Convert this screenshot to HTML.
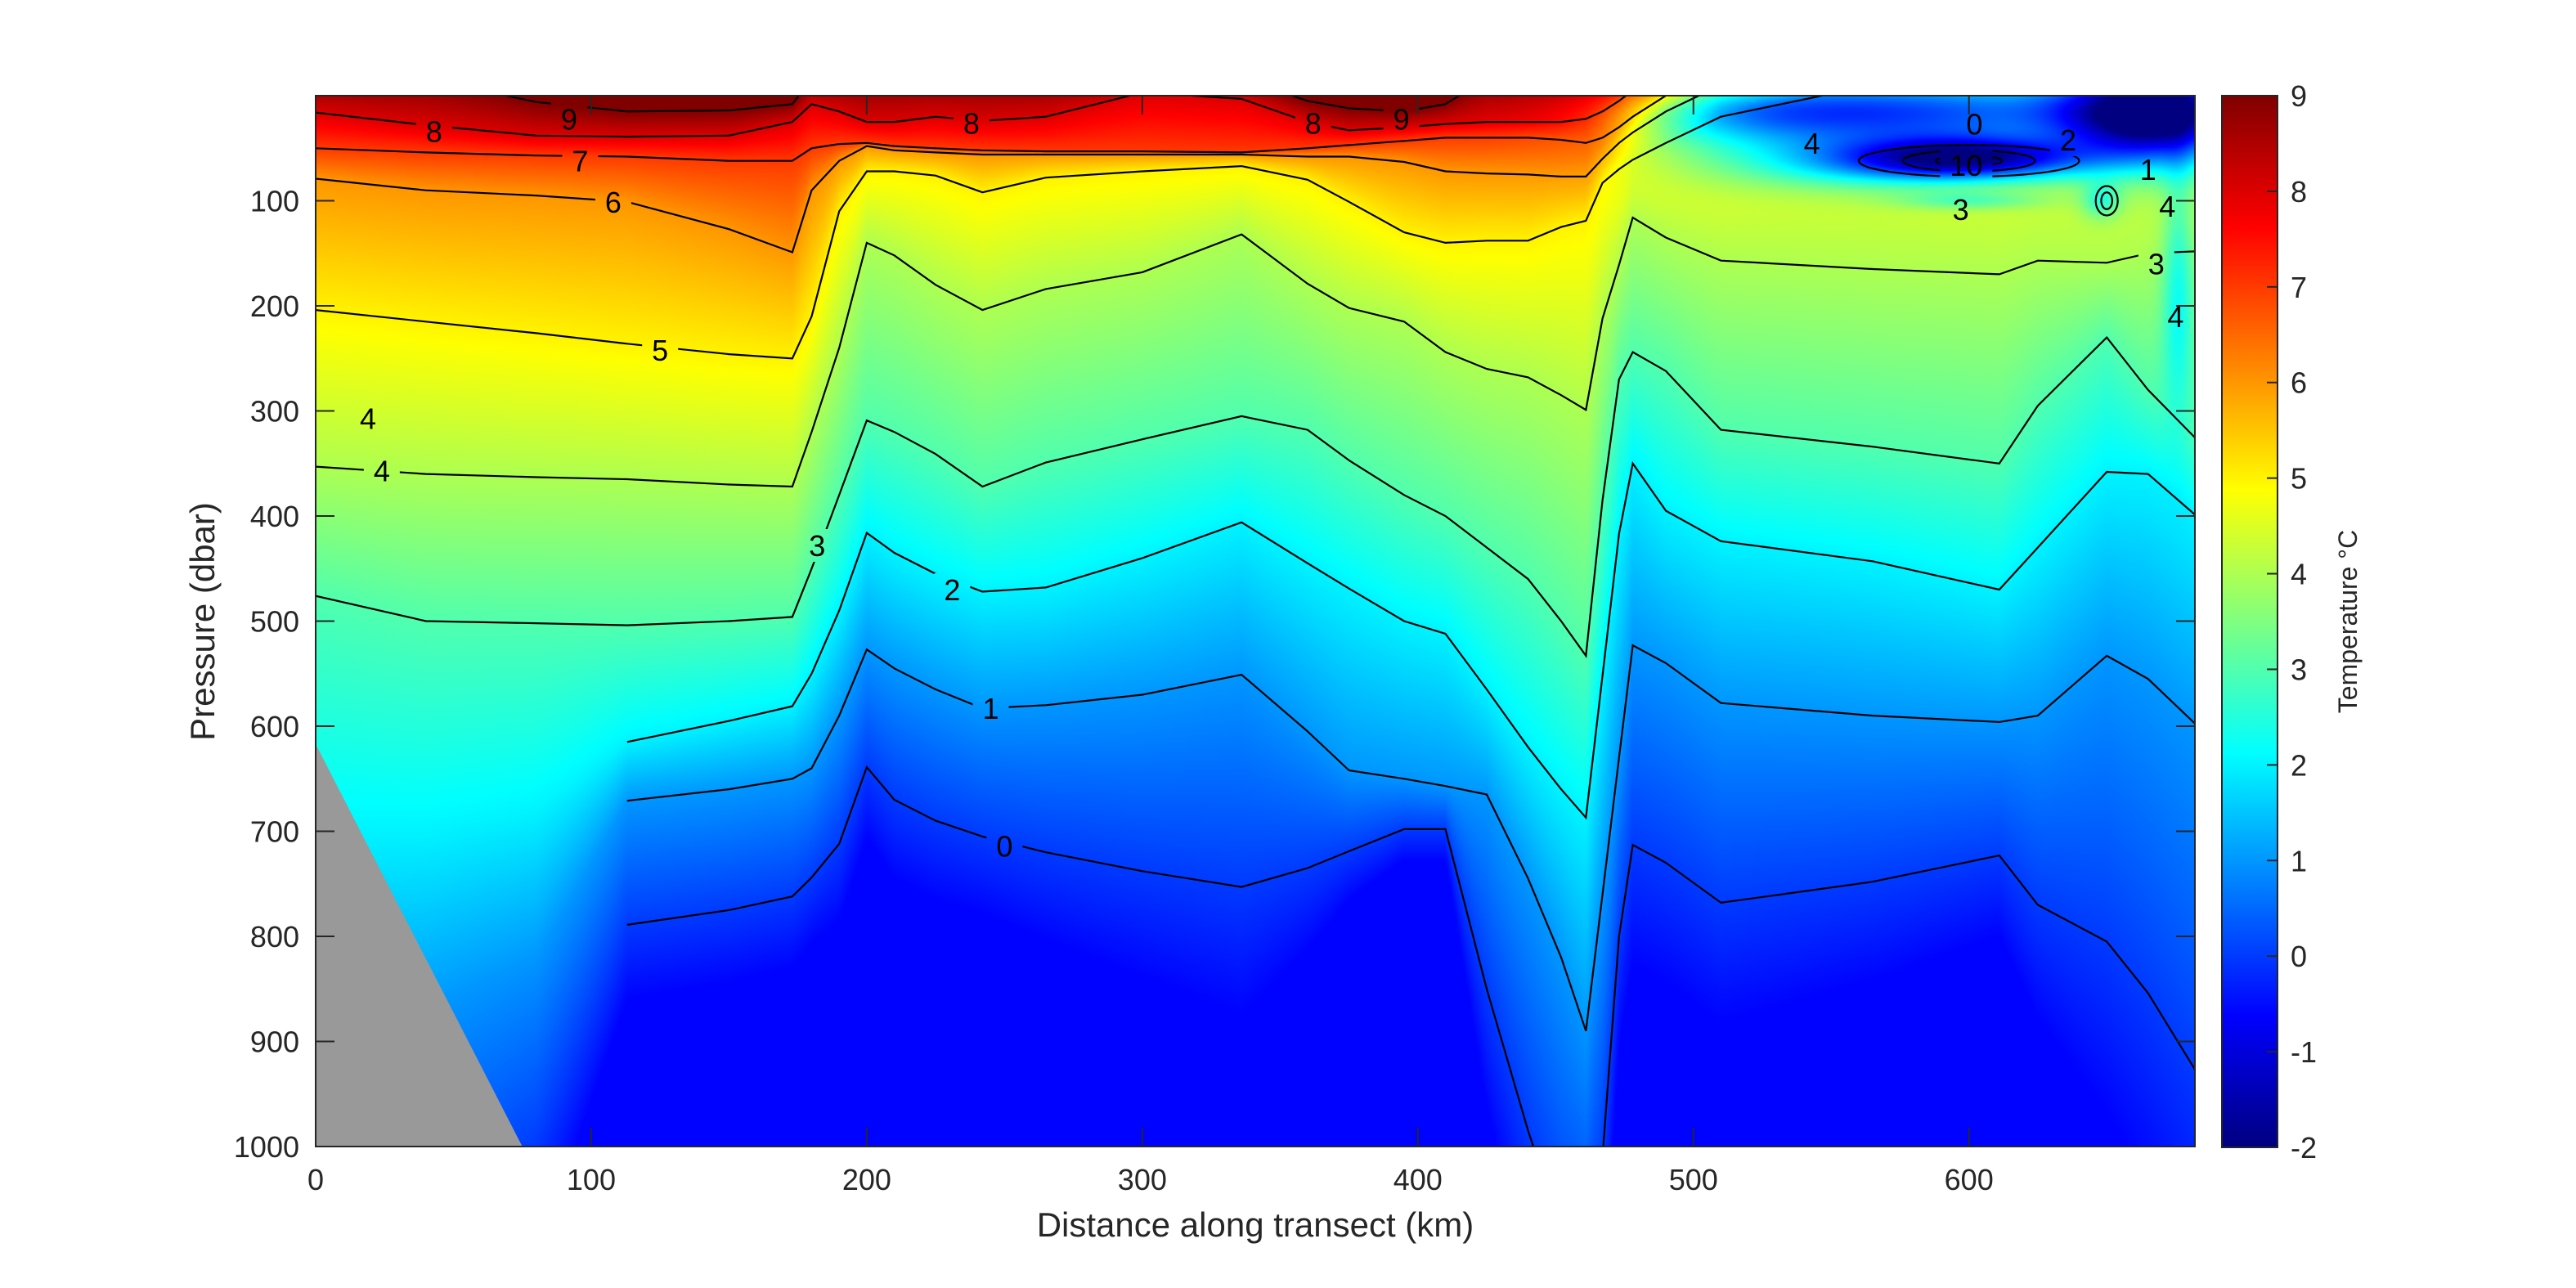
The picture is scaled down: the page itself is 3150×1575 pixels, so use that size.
<!DOCTYPE html>
<html><head><meta charset="utf-8">
<style>
html,body{margin:0;padding:0;background:#fff;}
#wrap{position:relative;width:3150px;height:1575px;overflow:hidden;font-family:"Liberation Sans",Arial,sans-serif;}
#heat{position:absolute;left:386px;top:117px;width:2298px;height:1285px;}
#ov{position:absolute;left:0;top:0;}
</style></head>
<body>
<div id="wrap">
<canvas id="heat" width="683" height="500"></canvas>
<svg id="ov" width="3150" height="1575" xmlns="http://www.w3.org/2000/svg">
<defs>
<linearGradient id="jet" x1="0" y1="1" x2="0" y2="0">
<stop offset="0" stop-color="#000080"/>
<stop offset="0.125" stop-color="#0000ff"/>
<stop offset="0.375" stop-color="#00ffff"/>
<stop offset="0.625" stop-color="#ffff00"/>
<stop offset="0.875" stop-color="#ff0000"/>
<stop offset="1" stop-color="#800000"/>
</linearGradient>
<clipPath id="plotclip"><rect x="386" y="117" width="2298" height="1285"/></clipPath>
<mask id="labmask" maskUnits="userSpaceOnUse" x="0" y="0" width="3150" height="1575"><rect x="0" y="0" width="3150" height="1575" fill="#fff"/><g id="maskholes"></g></mask>
</defs>
<polygon id="bathy" fill="#999999"/>
<g id="contours" clip-path="url(#plotclip)" mask="url(#labmask)" fill="none" stroke="#000" stroke-width="2.2"></g>
<g id="clabels" font-size="36" fill="#000" text-anchor="middle"></g>
<rect x="386" y="117" width="2298" height="1285" fill="none" stroke="#262626" stroke-width="2"/>
<g id="ticks" stroke="#262626" stroke-width="2"></g>
<g id="xlabels" font-size="36" fill="#262626" text-anchor="middle"></g>
<g id="ylabels" font-size="36" fill="#262626" text-anchor="end"></g>
<text x="1535" y="1512" font-size="42" fill="#262626" text-anchor="middle">Distance along transect (km)</text>
<text transform="translate(262,760) rotate(-90)" font-size="42" fill="#262626" text-anchor="middle">Pressure (dbar)</text>
<rect x="2717" y="117" width="68" height="1286" fill="url(#jet)" stroke="#262626" stroke-width="2"/>
<g id="cbticks" stroke="#262626" stroke-width="2"></g>
<g id="cblabels" font-size="36" fill="#262626"></g>
<text transform="translate(2882,760) rotate(-90)" font-size="32" fill="#262626" text-anchor="middle">Temperature °C</text>
</svg>
</div>
<script>
// ---- data ----
const stations=[0,40,80,113,150,173,180,190,200,210,225,242,265,300,336,360,375,395,410,425,440,452,461,467,473,478,490,510,565,611,625,650,665,683];
const iso0=[1150,1100,1000,789,775,762,744,712,639,670,690,705,720,738,753,735,719,698,698,850,985,1080,1100,1010,800,713,730,768,748,723,770,805,854,931];
const iso1=[900,870,820,671,660,650,640,590,527,545,565,583,580,570,551,605,642,650,657,665,745,820,890,760,630,523,540,578,590,596,590,533,555,600];
const iso2=[700,700,680,615,595,581,550,490,416,435,455,472,468,440,406,445,469,500,512,565,620,660,687,552,417,350,395,424,443,470,430,358,360,401];
const iso3=[476,500,502,504,500,496,450,380,309,320,341,372,349,327,305,318,347,380,400,430,460,500,533,385,270,244,262,318,334,350,295,230,280,328];
const iso4=[353,360,363,365,370,372,320,240,140,152,180,204,184,168,132,179,202,215,244,260,268,285,299,212,161,116,135,157,165,170,157,159,150,148];
const iso5=[204,215,226,236,246,250,210,110,72,72,76,92,78,72,67,80,101,130,140,138,138,125,119,83,70,61,45,20,-10,-10,-10,-10,-10,-10];
const iso6=[79,90,95,101,127,149,90,62,48,52,54,56,56,56,56,58,58,63,72,74,75,77,77,60,45,35,15,-10,-10,-10,-10,-10,-10,-10];
const iso7=[50,54,57,58,62,62,50,46,45,48,50,52,53,53,54,50,47,43,40,40,40,42,45,40,30,20,0,-12,-12,-12,-12,-12,-12,-12];
const iso8=[16,28,38,39,38,25,8,15,25,25,20,24,20,-3,3,25,33,30,27,25,25,25,22,15,5,-5,-14,-14,-14,-14,-14,-14,-14,-14];
const iso9=[-16,-16,6,15,14,8,-16,-16,-16,-16,-16,-16,-16,-16,-16,5,12,15,8,-16,-16,-16,-16,-16,-16,-16,-16,-16,-16,-16,-16,-16,-16,-16];
const contourStart=[113,113,113,0,0,0,0,0,0,0];
// cold anomalies in the eastern surface layer
const blobKm=[520,590,600,560,668,600,648,676];
const blobP=[15,15,60,65,15,100,100,180];
const blobSx=[35,50,30,40,24,18,5,4];
const blobSp=[25,25,14,18,35,6,12,80];
const blobDT=[-2.8,-4.2,-5.0,-2.0,-7.0,-1.2,-1.5,-1.5];
// contour labels
const labelKm=[92,43,96,108,125,19,24,182,231,245,250,238,362,394,543,602,636,599,597,665,672,668,675];
const labelP=[22,34,62,101,242,307,357,428,470,583,714,26,26,22,45,27,42,66,108,70,105,160,210];
const labelText=["9","8","7","6","5","4","4","3","2","1","0","8","8","9","4","0","2","10","3","1","4","3","4"];
const xTicks=[0,100,200,300,400,500,600];
const yTicks=[100,200,300,400,500,600,700,800,900,1000];
const cbTicks=[-2,-1,0,1,2,3,4,5,6,7,8,9];
const bathyKm=[0,75,0];
const bathyP=[617,1000,1000];
// ---- axes ----
const X0=386,X1=2684,Y0=117,Y1=1402,XMAX=682,PMAX=1000,TMIN=-2,TMAX=9;
const sx=k=>X0+(X1-X0)*k/XMAX;
const sy=p=>Y0+(Y1-Y0)*p/PMAX;
const cy=t=>1403-(1403-117)*(t-TMIN)/(TMAX-TMIN);
const isos=[iso0,iso1,iso2,iso3,iso4,iso5,iso6,iso7,iso8,iso9];
function interp(arr,x){
  if(x<=stations[0])return arr[0];
  for(let i=1;i<stations.length;i++){if(x<=stations[i]){const f=(x-stations[i-1])/(stations[i]-stations[i-1]);return arr[i-1]+f*(arr[i]-arr[i-1]);}}
  return arr[arr.length-1];
}
function temp(x,p){
  const d=isos.map(a=>interp(a,x));let T;
  if(p>=d[0]){T=-(p-d[0])/Math.max(d[0]-d[1],50);T=Math.max(T,-0.6);}
  else if(p<d[9]){T=9+(d[9]-p)/Math.max(d[8]-d[9],10);T=Math.min(T,9.6);}
  else{for(let k=0;k<9;k++){if(p<d[k]&&p>=d[k+1]){T=k+(d[k]-p)/(d[k]-d[k+1]);break;}}}
  for(let b=0;b<blobKm.length;b++){const u=(x-blobKm[b])/blobSx[b],v=(p-blobP[b])/blobSp[b];T+=blobDT[b]*Math.exp(-0.5*(u*u+v*v));}
  return T;
}
function jet(t){const c=v=>Math.max(0,Math.min(1,v));return [c(1.5-Math.abs(4*t-3)),c(1.5-Math.abs(4*t-2)),c(1.5-Math.abs(4*t-1))];}
// ---- heatmap ----
(function(){
  const cv=document.getElementById('heat');const ctx=cv.getContext('2d');
  const W=cv.width,H=cv.height;const img=ctx.createImageData(W,H);
  for(let j=0;j<H;j++){const p=(j+0.5)*PMAX/H;
    for(let i=0;i<W;i++){const x=(i+0.5)*XMAX/W;const T=temp(x,p);
      const c=jet(Math.max(0,Math.min(1,(T-TMIN)/(TMAX-TMIN))));const o=(j*W+i)*4;
      img.data[o]=c[0]*255;img.data[o+1]=c[1]*255;img.data[o+2]=c[2]*255;img.data[o+3]=255;}}
  ctx.putImageData(img,0,0);
})();
const NS='http://www.w3.org/2000/svg';
function mk(tag,attrs,parent){const e=document.createElementNS(NS,tag);for(const k in attrs)e.setAttribute(k,attrs[k]);parent.appendChild(e);return e;}
// bathymetry
document.getElementById('bathy').setAttribute('points',bathyKm.map((k,i)=>sx(k)+','+sy(bathyP[i])).join(' '));
// contours
const cg=document.getElementById('contours');
isos.forEach((arr,lev)=>{
  const segs=[];let cur=[];
  for(let i=0;i<stations.length;i++){
    const x=stations[i];if(x<contourStart[lev]){continue;}
    const d=arr[i];const inside=d>0&&d<PMAX;
    if(i>0&&cur.length===0&&inside&&stations[i-1]>=contourStart[lev]){
      const pd=arr[i-1];const bound=pd<=0?0:PMAX;const f=(bound-pd)/(d-pd);cur.push([stations[i-1]+f*(x-stations[i-1]),bound]);}
    if(inside){cur.push([x,d]);}
    else if(cur.length){const pd=arr[i-1];const bound=d<=0?0:PMAX;const f=(bound-pd)/(d-pd);cur.push([stations[i-1]+f*(x-stations[i-1]),bound]);segs.push(cur);cur=[];}
  }
  if(cur.length)segs.push(cur);
  segs.forEach(s=>{if(s.length<2)return;
    const pl=mk('polyline',{points:s.map(q=>sx(q[0]).toFixed(1)+','+sy(q[1]).toFixed(1)).join(' ')},cg);
    
    
  });
});
// eastern cold-core rings
const ringKm=[600,600,600,650,650];
const ringP=[62,62,62,100,100];
const ringRx=[40,24,12,4,2];
const ringRy=[15,10,5,14,8];
ringKm.forEach((k,i)=>{
  const e=mk('ellipse',{cx:sx(k),cy:sy(ringP[i]),rx:sx(ringRx[i])-X0,ry:sy(ringRy[i])-Y0},cg);
  
  
});
// labels
const lg=document.getElementById('clabels'),mh=document.getElementById('maskholes');
labelText.forEach((t,i)=>{
  const x=sx(labelKm[i]),y=sy(labelP[i]);
  const tx=mk('text',{x:x,y:y+13},lg);tx.textContent=t;
  
  
  mk('rect',{x:x-12-10*t.length,y:y-20,width:24+20*t.length,height:40,fill:'#000'},mh);
});
// ticks
const tg=document.getElementById('ticks'),xl=document.getElementById('xlabels'),yl=document.getElementById('ylabels');
xTicks.forEach(k=>{const x=sx(k);
  mk('line',{x1:x,y1:Y1,x2:x,y2:Y1-23},tg);mk('line',{x1:x,y1:Y0,x2:x,y2:Y0+23},tg);
  const t=mk('text',{x:x,y:1455},xl);t.textContent=k;
  
  
});
yTicks.forEach(p=>{const y=sy(p);
  mk('line',{x1:X0,y1:y,x2:X0+23,y2:y},tg);mk('line',{x1:X1,y1:y,x2:X1-23,y2:y},tg);
  const t=mk('text',{x:366,y:y+13},yl);t.textContent=p;
  
  
});
const cbt=document.getElementById('cbticks'),cbl=document.getElementById('cblabels');
cbTicks.forEach(v=>{const y=cy(v);
  if(v>TMIN&&v<TMAX)mk('line',{x1:2785,y1:y,x2:2772,y2:y},cbt);
  const t=mk('text',{x:2801,y:y+13},cbl);t.textContent=v;
  
  
});
</script>
</body></html>
